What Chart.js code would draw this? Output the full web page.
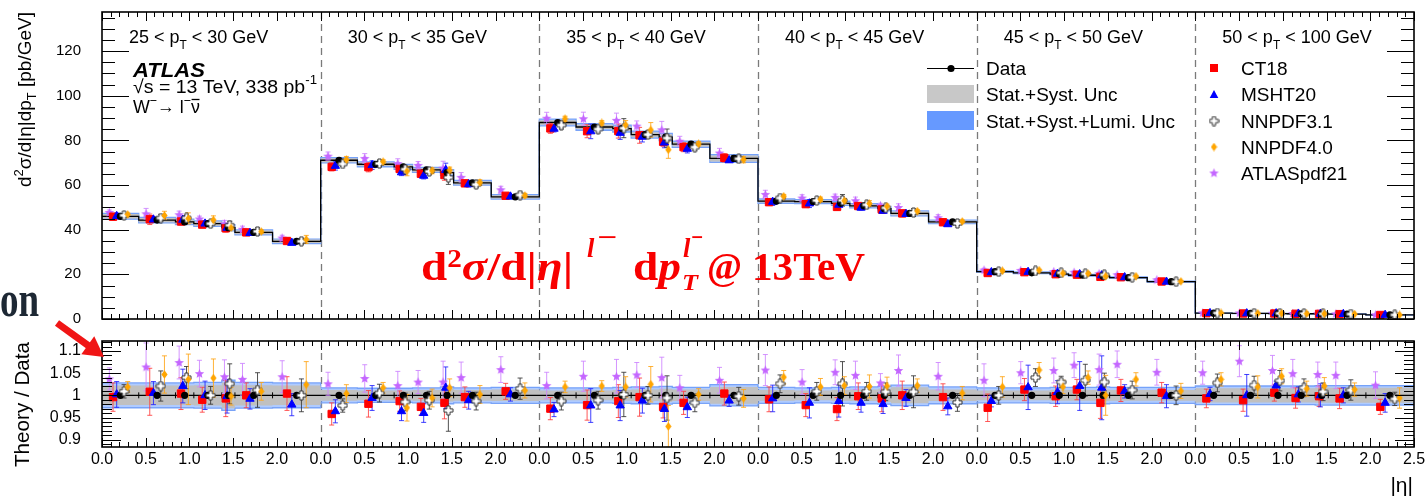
<!DOCTYPE html>
<html><head><meta charset="utf-8">
<script src="https://cdn.jsdelivr.net/npm/chart.js@4.4.1/dist/chart.umd.min.js"></script>
<style>
html,body{margin:0;padding:0;background:#fff;width:1426px;height:499px;overflow:hidden}
canvas{position:absolute;left:0}
#top{top:0}
#bot{top:330px}
#over{top:0;pointer-events:none}
</style></head><body>
<canvas id="top" width="1426" height="330"></canvas>
<canvas id="bot" width="1426" height="169"></canvas>
<canvas id="over" width="1426" height="499"></canvas>
<script>
// ---------------- DATA ----------------
const etaEdges = [0, 0.42, 0.84, 1.05, 1.37, 1.52, 1.95, 2.5];
const ptLow  = [25, 30, 35, 40, 45, 50];
const ptHigh = [30, 35, 40, 45, 50, 100];
const etaTickLabels = ['0.0', '0.5', '1.0', '1.5', '2.0'];
const lastEtaTickLabel = '2.5';
const yTicksTop = [0, 20, 40, 60, 80, 100, 120];
const yTicksRatio = [0.9, 0.95, 1, 1.05, 1.1];
const yTickLabelsRatio = ['0.9', '0.95', '1', '1.05', '1.1'];

// measured d2sigma/d|eta|dpT [pb/GeV], 6 pT bins x 7 |eta| bins
const dataXsec = [
  46.0, 44.3, 43.5, 42.7, 40.9, 38.8, 34.8,
  71.1, 69.3, 68.1, 66.8, 65.6, 61.0, 54.7,
  88.0, 86.0, 85.3, 82.6, 81.5, 78.3, 71.9,
  52.8, 52.6, 51.8, 50.7, 49.4, 47.3, 43.5,
  21.2, 20.7, 20.1, 19.6, 19.2, 18.5, 16.7,
  2.6, 2.5, 2.45, 2.35, 2.3, 2.2, 1.85
];
const statSystUnc = [
  0.022, 0.022, 0.022, 0.023, 0.029, 0.023, 0.022,
  0.012, 0.011, 0.011, 0.012, 0.014, 0.012, 0.013,
  0.011, 0.011, 0.012, 0.013, 0.015, 0.013, 0.019,
  0.012, 0.011, 0.012, 0.013, 0.015, 0.018, 0.013,
  0.011, 0.011, 0.012, 0.012, 0.013, 0.012, 0.012,
  0.016, 0.016, 0.016, 0.016, 0.017, 0.017, 0.017
];
const totalUnc = [
  0.028, 0.028, 0.028, 0.029, 0.034, 0.029, 0.028,
  0.017, 0.016, 0.016, 0.017, 0.019, 0.017, 0.018,
  0.017, 0.017, 0.018, 0.019, 0.020, 0.018, 0.024,
  0.018, 0.017, 0.018, 0.019, 0.020, 0.023, 0.019,
  0.017, 0.017, 0.018, 0.018, 0.019, 0.018, 0.018,
  0.021, 0.021, 0.021, 0.021, 0.022, 0.022, 0.022
];
// Theory / Data
const ratioCT18 = [
  0.996, 1.008, 1.004, 0.990, 0.993, 1.000, 1.004,
  0.958, 0.981, 0.987, 0.974, 0.983, 0.996, 1.009,
  0.970, 0.978, 0.987, 0.996, 0.974, 0.983, 1.004,
  0.991, 0.978, 0.969, 0.998, 0.993, 1.000, 0.996,
  0.972, 1.013, 0.998, 1.013, 0.983, 1.011, 1.006,
  0.993, 0.989, 1.006, 0.994, 0.998, 0.993, 0.974
];
const errCT18 = [
  0.032, 0.053, 0.036, 0.028, 0.041, 0.028, 0.038,
  0.025, 0.030, 0.023, 0.019, 0.036, 0.023, 0.018,
  0.025, 0.034, 0.037, 0.043, 0.025, 0.026, 0.026,
  0.028, 0.026, 0.026, 0.030, 0.030, 0.032, 0.030,
  0.031, 0.025, 0.023, 0.023, 0.035, 0.025, 0.023,
  0.021, 0.025, 0.019, 0.023, 0.023, 0.023, 0.017
];
const ratioMSHT20 = [
  1.002, 1.005, 1.021, 1.000, 0.998, 0.992, 0.979,
  0.964, 0.994, 0.964, 0.960, 1.017, 0.989, 1.002,
  0.968, 0.977, 0.977, 0.988, 0.969, 0.973, 0.988,
  0.993, 0.983, 0.987, 0.983, 0.980, 0.994, 0.975,
  0.987, 1.018, 1.007, 1.021, 1.017, 1.009, 0.998,
  1.003, 1.000, 1.022, 1.002, 1.000, 1.000, 0.983
];
const errMSHT20 = [
  0.029, 0.026, 0.038, 0.032, 0.038, 0.023, 0.025,
  0.026, 0.028, 0.021, 0.021, 0.047, 0.020, 0.015,
  0.016, 0.038, 0.034, 0.028, 0.028, 0.023, 0.013,
  0.030, 0.034, 0.036, 0.021, 0.021, 0.019, 0.019,
  0.013, 0.050, 0.026, 0.055, 0.072, 0.015, 0.026,
  0.015, 0.047, 0.010, 0.017, 0.026, 0.017, 0.021
];
const ratioNNPDF31 = [
  1.009, 1.021, 1.040, 1.000, 1.026, 1.012, 1.000,
  0.977, 1.005, 0.985, 0.989, 0.966, 0.987, 1.015,
  0.987, 0.989, 1.002, 1.000, 0.994, 0.983, 0.998,
  1.026, 1.009, 1.026, 1.009, 1.008, 1.008, 0.984,
  1.000, 1.040, 1.030, 1.034, 1.030, 1.012, 1.000,
  1.028, 1.023, 1.033, 1.017, 1.008, 1.012, 0.992
];
const errNNPDF31 = [
  0.015, 0.034, 0.025, 0.020, 0.045, 0.039, 0.037,
  0.015, 0.020, 0.020, 0.020, 0.047, 0.020, 0.024,
  0.020, 0.020, 0.050, 0.020, 0.050, 0.020, 0.020,
  0.020, 0.020, 0.050, 0.020, 0.020, 0.036, 0.020,
  0.020, 0.020, 0.013, 0.036, 0.020, 0.020, 0.021,
  0.020, 0.020, 0.023, 0.020, 0.020, 0.023, 0.015
];
const ratioNNPDF40 = [
  1.019, 1.047, 1.036, 1.039, 0.998, 1.009, 1.024,
  1.004, 1.017, 0.972, 0.994, 1.017, 1.002, 1.011,
  1.019, 1.021, 1.019, 1.025, 0.930, 1.002, 0.993,
  1.041, 1.019, 1.022, 1.020, 1.021, 1.022, 1.005,
  1.019, 1.057, 1.019, 1.040, 1.000, 1.036, 1.010,
  1.036, 1.019, 1.043, 1.015, 1.021, 1.013, 0.994
];
const errNNPDF40 = [
  0.012, 0.042, 0.057, 0.043, 0.020, 0.020, 0.052,
  0.020, 0.012, 0.030, 0.020, 0.020, 0.020, 0.017,
  0.013, 0.012, 0.023, 0.040, 0.047, 0.013, 0.020,
  0.015, 0.019, 0.020, 0.026, 0.020, 0.015, 0.015,
  0.023, 0.017, 0.015, 0.015, 0.045, 0.015, 0.017,
  0.015, 0.025, 0.017, 0.017, 0.019, 0.015, 0.023
];
const ratioATLASpdf21 = [
  1.037, 1.064, 1.074, 1.049, 1.042, 1.036, 1.042,
  1.026, 1.038, 1.022, 1.030, 1.030, 1.040, 1.058,
  1.022, 1.043, 1.043, 1.046, 1.040, 1.017, 1.034,
  1.057, 1.030, 1.052, 1.045, 1.028, 1.056, 1.043,
  1.034, 1.051, 1.056, 1.068, 1.058, 1.070, 1.052,
  1.051, 1.077, 1.056, 1.049, 1.047, 1.045, 1.023
];
const errATLASpdf21 = [
  0.025, 0.054, 0.037, 0.030, 0.038, 0.036, 0.036,
  0.026, 0.031, 0.032, 0.026, 0.047, 0.035, 0.029,
  0.030, 0.034, 0.038, 0.028, 0.046, 0.028, 0.029,
  0.035, 0.028, 0.028, 0.032, 0.021, 0.035, 0.031,
  0.037, 0.025, 0.028, 0.028, 0.035, 0.030, 0.029,
  0.026, 0.035, 0.034, 0.032, 0.028, 0.030, 0.030
];

// ---------------- HELPERS ----------------
const NS = ptLow.length, NB = etaEdges.length - 1;
const SPAN = etaEdges[NB];
const XMAX = NS * SPAN;
const SANS = '"Liberation Sans", Arial, Helvetica, sans-serif';
const SERIF = '"Liberation Serif", "DejaVu Serif", serif';
Chart.defaults.font.family = SANS;
Chart.defaults.color = '#000';

function stepLine(fn) {
  const pts = [];
  for (let s = 0; s < NS; s++) for (let b = 0; b < NB; b++) {
    const y = fn(s * NB + b);
    pts.push({x: s * SPAN + etaEdges[b], y});
    pts.push({x: s * SPAN + etaEdges[b + 1], y});
  }
  return pts;
}
function binX(k, frac) {
  const s = Math.floor(k / NB), b = k % NB;
  const lo = etaEdges[b], hi = etaEdges[b + 1];
  return s * SPAN + (lo + hi) / 2 + frac * (hi - lo);
}

function mkCanvas(w, h) { const c = document.createElement('canvas'); c.width = w; c.height = h; return c; }
function makeCross() {
  const c = mkCanvas(11, 11), g = c.getContext('2d');
  const a = 1.6, L = 4.5, cx = 5.5, cy = 5.5;
  const p = [[-a,-L],[a,-L],[a,-a],[L,-a],[L,a],[a,a],[a,L],[-a,L],[-a,a],[-L,a],[-L,-a],[-a,-a]];
  g.beginPath(); p.forEach(([dx,dy],i)=> i? g.lineTo(cx+dx,cy+dy): g.moveTo(cx+dx,cy+dy)); g.closePath();
  g.fillStyle = '#fff'; g.fill(); g.strokeStyle = '#333'; g.lineWidth = 1; g.stroke();
  return c;
}
function makeStar(color) {
  const c = mkCanvas(11, 11), g = c.getContext('2d');
  g.beginPath();
  for (let i = 0; i < 10; i++) { const r = i % 2 ? 2.2 : 5; const a = -Math.PI/2 + i*Math.PI/5; g.lineTo(5.5 + r*Math.cos(a), 5.8 + r*Math.sin(a)); }
  g.closePath(); g.fillStyle = color; g.fill();
  return c;
}
function makeDiamond(color) {
  const c = mkCanvas(7, 9), g = c.getContext('2d');
  g.beginPath(); g.moveTo(3.5,0.3); g.lineTo(6.6,4.5); g.lineTo(3.5,8.7); g.lineTo(0.4,4.5); g.closePath();
  g.fillStyle = color; g.fill();
  return c;
}
const crossImg = makeCross(), starImg = makeStar('#c466ff'), diamondImg = makeDiamond('#ffa500');

const models = [
  {name:'CT18',       ratio: ratioCT18,       err: errCT18,       frac:-0.2, style:'rect',     radius:5.2, color:'#ff0000', errColor:'rgba(255,60,60,0.85)',  order:5},
  {name:'MSHT20',     ratio: ratioMSHT20,     err: errMSHT20,     frac:-0.1, style:'triangle', radius:4.8, color:'#0000ff', errColor:'rgba(30,30,255,0.85)',  order:4},
  {name:'NNPDF3.1',   ratio: ratioNNPDF31,    err: errNNPDF31,    frac: 0.1, style: crossImg,  radius:4,   color:'#333',    errColor:'rgba(50,50,50,0.85)',   order:2},
  {name:'NNPDF4.0',   ratio: ratioNNPDF40,    err: errNNPDF40,    frac: 0.2, style: diamondImg,radius:4,   color:'#ffa500', errColor:'rgba(255,165,20,0.85)', order:1},
  {name:'ATLASpdf21', ratio: ratioATLASpdf21, err: errATLASpdf21, frac:-0.3, style: starImg,   radius:4,   color:'#c466ff', errColor:'rgba(205,130,255,0.85)',order:6}
];

const BAND_EDGE = '#79a3f7', BAND_BLUE = 'rgba(110,160,255,0.55)', BAND_GRAY = '#c0c0c0';
const NONE = 'rgba(0,0,0,0)';

function bandSets(center) {
  return [
    {data: stepLine(k => center(k) * (1 + totalUnc[k])), borderColor: BAND_EDGE, borderWidth: 1.3, pointRadius: 0, fill: false, order: 20},
    {data: stepLine(k => center(k) * (1 - totalUnc[k])), borderColor: BAND_EDGE, borderWidth: 1.3, pointRadius: 0, fill: '-1', backgroundColor: BAND_BLUE, order: 19},
    {data: stepLine(k => center(k) * (1 + statSystUnc[k])), borderColor: NONE, borderWidth: 1, pointRadius: 0, fill: false, order: 18},
    {data: stepLine(k => center(k) * (1 - statSystUnc[k])), borderColor: NONE, borderWidth: 1, pointRadius: 0, fill: '-1', backgroundColor: BAND_GRAY, order: 17}
  ];
}
function modelSets(scaleFn) {
  return models.map(m => ({
    label: m.name,
    data: dataXsec.map((v, k) => ({x: binX(k, m.frac), y: scaleFn(k) * m.ratio[k]})),
    errs: dataXsec.map((v, k) => scaleFn(k) * m.err[k]),
    errColor: m.errColor,
    showLine: false, pointStyle: m.style, pointRadius: m.radius,
    backgroundColor: m.color, borderColor: m.color, borderWidth: 1, order: m.order
  }));
}

const errorBarPlugin = {
  id: 'errbars',
  afterDatasetDraw(chart, args) {
    const ds = chart.data.datasets[args.index];
    if (!ds.isBase) return;
    const ctx = chart.ctx, ya = chart.scales.y, a = chart.chartArea;
    ctx.save(); ctx.beginPath(); ctx.rect(a.left, a.top, a.right - a.left, a.bottom - a.top); ctx.clip();
    if (ds.edgeMarks) {
      ctx.strokeStyle = '#000'; ctx.lineWidth = 1;
      const y0 = ya.getPixelForValue(1);
      ctx.beginPath();
      for (let s = 0; s < NS; s++) for (let b = 1; b < NB; b++) {
        const x = chart.scales.x.getPixelForValue(s * SPAN + etaEdges[b]);
        ctx.moveTo(x, y0 - 3); ctx.lineTo(x, y0 + 3);
      }
      ctx.stroke();
    }
    chart.data.datasets.forEach((d, i) => {
      if (!d.errs) return;
      const meta = chart.getDatasetMeta(i);
      ctx.strokeStyle = d.errColor; ctx.lineWidth = 1;
      meta.data.forEach((pt, k) => {
        const v = d.data[k].y, e = d.errs[k];
        const y1 = ya.getPixelForValue(v + e), y2 = ya.getPixelForValue(v - e);
        ctx.beginPath();
        ctx.moveTo(pt.x, y1); ctx.lineTo(pt.x, y2);
        ctx.moveTo(pt.x - 2.5, y1); ctx.lineTo(pt.x + 2.5, y1);
        ctx.moveTo(pt.x - 2.5, y2); ctx.lineTo(pt.x + 2.5, y2);
        ctx.stroke();
      });
    });
    ctx.restore();
  }
};

function framePlugin(yMin, yMax, yMinorStep, yMajorEvery, yMajLen, yMinLen) {
  return {
    id: 'frame',
    beforeDatasetsDraw(chart) {
      const ctx = chart.ctx, a = chart.chartArea, xs = chart.scales.x;
      ctx.save(); ctx.strokeStyle = '#7a7a7a'; ctx.lineWidth = 1.3; ctx.setLineDash([7, 5]);
      for (let s = 1; s < NS; s++) {
        const x = Math.round(xs.getPixelForValue(s * SPAN)) + 0.5;
        ctx.beginPath(); ctx.moveTo(x, a.top); ctx.lineTo(x, a.bottom); ctx.stroke();
      }
      ctx.restore();
    },
    afterDatasetsDraw(chart) {
      const ctx = chart.ctx, a = chart.chartArea, xs = chart.scales.x, ys = chart.scales.y;
      ctx.save(); ctx.strokeStyle = '#000'; ctx.lineWidth = 1;
      ctx.beginPath();
      for (let i = 0; i <= XMAX * 10; i++) {
        const x = Math.round(xs.getPixelForValue(i / 10)) + 0.5;
        const L = i % 5 === 0 ? 9 : 5;
        ctx.moveTo(x, a.bottom); ctx.lineTo(x, a.bottom - L);
        ctx.moveTo(x, a.top); ctx.lineTo(x, a.top + L);
      }
      const n0 = Math.ceil(yMin / yMinorStep - 1e-6), n1 = Math.floor(yMax / yMinorStep + 1e-6);
      for (let n = n0; n <= n1; n++) {
        const y = Math.round(ys.getPixelForValue(n * yMinorStep)) + 0.5;
        const L = n % yMajorEvery === 0 ? yMajLen : yMinLen;
        ctx.moveTo(a.left, y); ctx.lineTo(a.left + L, y);
        ctx.moveTo(a.right, y); ctx.lineTo(a.right - L, y);
      }
      ctx.stroke();
      ctx.lineWidth = 1.6;
      ctx.strokeRect(a.left, a.top, a.right - a.left, a.bottom - a.top);
      ctx.restore();
    }
  };
}

function fontOf(p, base, fam) { return `${p.i ? 'italic ' : ''}${p.b ? 'bold ' : ''}${(base * (p.s || 1)).toFixed(2)}px ${fam}`; }
function layoutParts(ctx, parts, base, fam) {
  let cx = 0, hold = null; const items = [];
  for (const p of parts) {
    ctx.font = fontOf(p, base, fam);
    const w = ctx.measureText(p.t).width;
    if (hold) { items.push({p, x: hold.x, w}); cx = hold.x + Math.max(hold.w, w); hold = null; }
    else { items.push({p, x: cx, w}); if (p.stack) hold = {x: cx, w}; else cx += w; }
  }
  return {items, width: cx};
}
function drawParts(ctx, parts, x, y, base, fam, targetW, color) {
  const L = layoutParts(ctx, parts, base, fam);
  const sx = targetW ? targetW / L.width : 1;
  ctx.save(); ctx.translate(x, y); ctx.scale(sx, 1);
  ctx.fillStyle = color || '#000'; ctx.textAlign = 'left'; ctx.textBaseline = 'alphabetic';
  for (const it of L.items) { ctx.font = fontOf(it.p, base, fam); ctx.fillText(it.p.t, it.x, (it.p.dy || 0) * base); }
  ctx.restore();
  return {width: L.width * sx, items: L.items.map(it => ({x: x + it.x * sx, w: it.w * sx}))};
}
function drawRotated(ctx, parts, xBase, yEnd, base, fam, targetW) {
  const L = layoutParts(ctx, parts, base, fam);
  const W = targetW || L.width;
  ctx.save(); ctx.translate(xBase, yEnd + W); ctx.rotate(-Math.PI / 2);
  drawParts(ctx, parts, 0, 0, base, fam, targetW);
  ctx.restore();
}

const textTopPlugin = {
  id: 'textTop',
  afterDraw(chart) {
    const ctx = chart.ctx, xs = chart.scales.x;
    drawRotated(ctx, [{t:'d'}, {t:'2', s:0.68, dy:-0.42}, {t:'σ/d|η|dp'}, {t:'T', s:0.68, dy:0.3}, {t:' [pb/GeV]'}], 31, 12, 18, SANS, 175);
    for (let s = 0; s < NS; s++) {
      const x0 = xs.getPixelForValue(s * SPAN);
      drawParts(ctx, [{t: ptLow[s] + ' < p'}, {t:'T', s:0.66, dy:0.36}, {t: ' < ' + ptHigh[s] + ' GeV'}], x0 + 27, 43, 18, SANS);
    }
    drawParts(ctx, [{t:'ATLAS', b:1, i:1}], 133, 77, 21, SANS, 72);
    drawParts(ctx, [{t:'√s = 13 TeV, 338 pb'}, {t:'-1', s:0.68, dy:-0.45}], 133, 93, 19, SANS, 184);
    const r = drawParts(ctx, [{t:'W'}, {t:'−', s:0.7, dy:-0.42}, {t:'→ l'}, {t:'−', s:0.7, dy:-0.42}, {t:'ν'}], 133, 113, 19, SANS, 67);
    const nu = r.items[4];
    ctx.save(); ctx.strokeStyle = '#000'; ctx.lineWidth = 1.3;
    ctx.beginPath(); ctx.moveTo(nu.x + 0.5, 99.5); ctx.lineTo(nu.x + nu.w - 0.5, 99.5); ctx.stroke(); ctx.restore();

    ctx.save();
    ctx.strokeStyle = '#000'; ctx.lineWidth = 1.2;
    ctx.beginPath(); ctx.moveTo(927, 68.5); ctx.lineTo(974, 68.5); ctx.stroke();
    ctx.fillStyle = '#000'; ctx.beginPath(); ctx.arc(951, 68.5, 3.6, 0, 2 * Math.PI); ctx.fill();
    ctx.fillStyle = '#c8c8c8'; ctx.fillRect(927, 85, 47, 18);
    ctx.fillStyle = '#6699ff'; ctx.fillRect(927, 111, 47, 19);
    ctx.restore();
    drawParts(ctx, [{t:'Data'}], 986, 75, 19, SANS);
    drawParts(ctx, [{t:'Stat.+Syst. Unc'}], 986, 101, 19, SANS);
    drawParts(ctx, [{t:'Stat.+Syst.+Lumi. Unc'}], 986, 127.5, 19, SANS, 189);
    const ly = [68, 94.5, 121, 147, 173];
    ctx.save();
    ctx.fillStyle = '#ff0000'; ctx.fillRect(1210, ly[0] - 4, 8, 8);
    ctx.fillStyle = '#0000ff'; ctx.beginPath(); ctx.moveTo(1214, ly[1] - 4.5); ctx.lineTo(1218.3, ly[1] + 3.5); ctx.lineTo(1209.7, ly[1] + 3.5); ctx.closePath(); ctx.fill();
    ctx.drawImage(crossImg, 1214 - 5.5, ly[2] - 5.5);
    ctx.drawImage(diamondImg, 1214 - 3.5, ly[3] - 4.5);
    ctx.drawImage(starImg, 1214 - 5.5, ly[4] - 5.5);
    ctx.restore();
    models.forEach((m, i) => drawParts(ctx, [{t: m.name}], 1241, ly[i] + 6.8, 19, SANS));

    const RED = '#f80000';
    drawParts(ctx, [{t:'d', b:1}, {t:'2', b:1, s:0.62, dy:-0.33}, {t:'σ', b:1, i:1}, {t:'/d|', b:1}, {t:'η', b:1, i:1}, {t:'|', b:1}], 421, 280, 40, SERIF, 152, RED);
    drawParts(ctx, [{t:'l', b:1, i:1, s:0.66}], 587, 257, 40, SERIF, 0, RED);
    drawParts(ctx, [{t:'−', b:1, s:0.66}], 597, 246, 40, SERIF, 20, RED);
    drawParts(ctx, [{t:'d', b:1}, {t:'p', b:1, i:1}], 633, 280, 40, SERIF, 48, RED);
    drawParts(ctx, [{t:'T', b:1, i:1, s:0.58}], 682, 290, 40, SERIF, 16, RED);
    drawParts(ctx, [{t:'l', b:1, i:1, s:0.66}], 683, 257, 40, SERIF, 0, RED);
    drawParts(ctx, [{t:'−', b:1, s:0.66}], 691, 246, 40, SERIF, 12, RED);
    drawParts(ctx, [{t:'@', b:1}], 707, 280, 40, SERIF, 35, RED);
    drawParts(ctx, [{t:'13TeV', b:1}], 752, 280, 40, SERIF, 113, RED);
  }
};

const textBotPlugin = {
  id: 'textBot',
  afterDraw(chart) {
    const ctx = chart.ctx;
    drawRotated(ctx, [{t:'Theory / Data'}], 28.5, 12, 21, SANS, 125);
    ctx.save(); ctx.font = '21px ' + SANS; ctx.fillStyle = '#000'; ctx.textAlign = 'right';
    ctx.fillText('|η|', 1413, 162); ctx.restore();
  }
};

// y axis: labels 21px left of frame; padding via tickLength (ticks.padding would also pad top/bottom)
function yAxis(min, max, tickVals, labels, size) {
  return {
    type: 'linear', min, max,
    afterFit: s => { s.width = 102; },
    afterBuildTicks: s => { s.ticks = tickVals.map(v => ({value: v})); },
    grid: {display: false, drawTicks: true, tickLength: 21}, border: {display: false},
    ticks: {font: {size}, padding: 0, color: '#000', autoSkip: false,
            callback: labels ? ((v, i) => labels[i]) : (v => String(v))}
  };
}

// ---------------- TOP PANEL ----------------
const topDatasets = [
  ...bandSets(k => dataXsec[k]),
  {data: stepLine(k => dataXsec[k]), borderColor: '#000', borderWidth: 1.3, pointRadius: 0, fill: false, order: 10, isBase: true},
  ...modelSets(k => dataXsec[k]),
  {label: 'Data', data: dataXsec.map((v, k) => ({x: binX(k, 0), y: v})), errs: dataXsec.map((v, k) => v * statSystUnc[k]), errColor: '#000',
   showLine: false, pointStyle: 'circle', pointRadius: 3.6, backgroundColor: '#000', borderColor: '#000', borderWidth: 0, order: 3}
];
new Chart(document.getElementById('top'), {
  type: 'line',
  data: {datasets: topDatasets},
  options: {
    responsive: false, animation: false, events: [],
    layout: {padding: {top: 12, right: 12, bottom: 11, left: 0}},
    plugins: {legend: {display: false}, tooltip: {enabled: false}},
    scales: {
      x: {type: 'linear', min: 0, max: XMAX, display: false},
      y: yAxis(0, 137.5, yTicksTop, null, 15)
    }
  },
  plugins: [errorBarPlugin, framePlugin(0, 137.5, 5, 4, 27, 13), textTopPlugin]
});

// ---------------- RATIO PANEL ----------------
const botDatasets = [
  ...bandSets(k => 1),
  {data: stepLine(k => 1), borderColor: '#000', borderWidth: 1.2, pointRadius: 0, fill: false, order: 10, isBase: true, edgeMarks: true},
  ...modelSets(k => 1),
  {label: 'Data', data: dataXsec.map((v, k) => ({x: binX(k, 0), y: 1})),
   showLine: false, pointStyle: 'circle', pointRadius: 3.6, backgroundColor: '#000', borderColor: '#000', borderWidth: 0, order: 3}
];
new Chart(document.getElementById('bot'), {
  type: 'line',
  data: {datasets: botDatasets},
  options: {
    responsive: false, animation: false, events: [],
    layout: {padding: {top: 11, right: 12, bottom: 0, left: 0}},
    plugins: {legend: {display: false}, tooltip: {enabled: false}},
    scales: {
      x: {type: 'linear', min: 0, max: XMAX,
          afterFit: s => { s.height = 52; },
          afterBuildTicks: s => {
            const t = [];
            for (let sec = 0; sec < NS; sec++) etaTickLabels.forEach(l => t.push({value: sec * SPAN + parseFloat(l)}));
            t.push({value: XMAX}); s.ticks = t;
          },
          grid: {display: false, drawTicks: true, tickLength: 3}, border: {display: false},
          ticks: {font: {size: 16}, padding: 0, color: '#000', maxRotation: 0, minRotation: 0, autoSkip: false,
                  callback: (v, i, arr) => i === arr.length - 1 ? lastEtaTickLabel : etaTickLabels[i % etaTickLabels.length]}},
      y: yAxis(0.8835, 1.1225, yTicksRatio, yTickLabelsRatio, 16)
    }
  },
  plugins: [errorBarPlugin, framePlugin(0.8835, 1.1225, 0.01, 5, 19, 10), textBotPlugin]
});

// ---------------- slide overlay (cropped slide text + arrow) ----------------
(function () {
  const c = document.getElementById('over'), g = c.getContext('2d');
  g.save(); g.fillStyle = '#1d2834'; g.font = 'bold 50px ' + SERIF; g.translate(0, 316); g.scale(0.74, 1); g.fillText('on', 0, 0); g.restore();
  const tail = [57, 323], tip = [104, 357];
  const dx = tip[0] - tail[0], dy = tip[1] - tail[1], len = Math.hypot(dx, dy), ux = dx / len, uy = dy / len;
  const hl = 20, hw = 11, bx = tip[0] - ux * hl, by = tip[1] - uy * hl;
  g.save(); g.strokeStyle = g.fillStyle = '#f01515'; g.lineWidth = 7; g.lineCap = 'butt';
  g.beginPath(); g.moveTo(tail[0], tail[1]); g.lineTo(bx + ux * 2, by + uy * 2); g.stroke();
  g.beginPath(); g.moveTo(tip[0], tip[1]); g.lineTo(bx - uy * hw, by + ux * hw); g.lineTo(bx + uy * hw, by - ux * hw); g.closePath(); g.fill();
  g.restore();
})();
</script>
</body></html>
